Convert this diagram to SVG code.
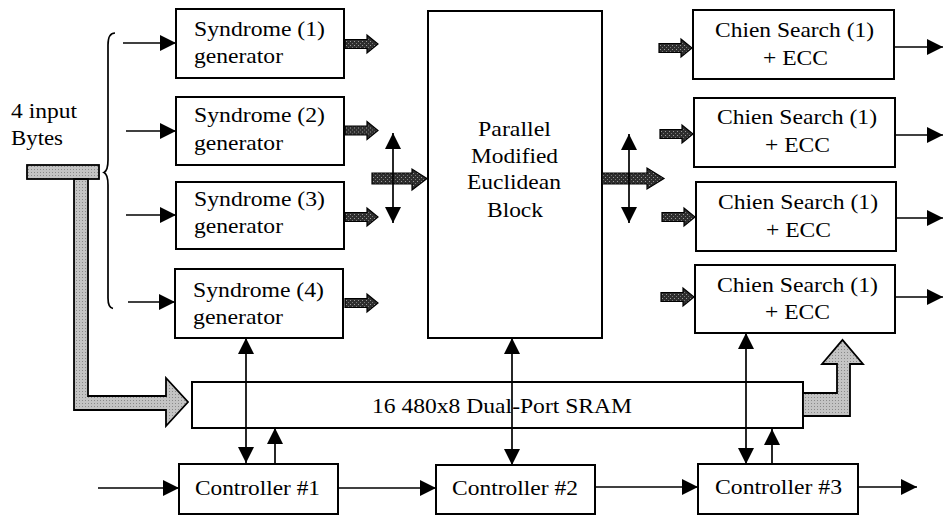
<svg xmlns="http://www.w3.org/2000/svg" width="944" height="515" viewBox="0 0 944 515">
<defs>
<style>
.box{fill:#fff;stroke:#000;stroke-width:2}
.t{font-family:"Liberation Serif","Times New Roman",serif;font-size:22px;fill:#000}
.ln{stroke:#000;stroke-width:1.7;fill:none}
.ar{marker-end:url(#ah)}
.dbl{marker-start:url(#ah);marker-end:url(#ah)}
.dk{fill:url(#pdk);stroke:#000;stroke-width:1.2}
.lt{fill:url(#plt);stroke:#000;stroke-width:1.8}
</style>
<marker id="ah" viewBox="0 0 16 16" markerWidth="16" markerHeight="16" markerUnits="userSpaceOnUse" refX="16" refY="8" orient="auto-start-reverse">
<path d="M0,0 L16,8 L0,16 z" fill="#000"/>
</marker>
<pattern id="pdk" width="4" height="4" patternUnits="userSpaceOnUse">
<rect width="4" height="4" fill="#2e2e2e"/>
<rect x="1" y="1" width="1" height="1" fill="#9a9a9a"/>
<rect x="3" y="3" width="1" height="1" fill="#777"/>
</pattern>
<pattern id="plt" width="3" height="3" patternUnits="userSpaceOnUse">
<rect width="3" height="3" fill="#c4c4c4"/>
<rect x="1" y="1" width="1" height="1" fill="#8a8a8a"/>
</pattern>
<path id="sa" d="M0,-4.5 L22,-4.5 L22,-9 L33,0 L22,9 L22,4.5 L0,4.5 z"/>
</defs>

<g id="input-bytes">
<text class="t" x="11" y="118" textLength="66" lengthAdjust="spacingAndGlyphs">4 input</text>
<text class="t" x="11" y="145" textLength="52" lengthAdjust="spacingAndGlyphs">Bytes</text>
<path class="ln" d="M115,33 C110,33 108,37 108,45 L108,160 C108,167 107,171 104,172.5 C107,174 108,178 108,185 L108,298 C108,305 110,308 113,308.5"/>
<rect class="lt" x="27" y="165" width="72" height="14"/>
<polygon class="lt" points="74,179 88,179 88,396 166,396 166,378 188,402 166,426 166,410 74,410"/>
</g>

<g id="syndrome1">
<rect class="box" x="176" y="9" width="168" height="69"/>
<text class="t" x="194" y="36" textLength="131" lengthAdjust="spacingAndGlyphs">Syndrome (1)</text>
<text class="t" x="194" y="63" textLength="89" lengthAdjust="spacingAndGlyphs">generator</text>
</g>
<g id="syndrome2">
<rect class="box" x="176" y="97" width="168" height="68"/>
<text class="t" x="194" y="122" textLength="131" lengthAdjust="spacingAndGlyphs">Syndrome (2)</text>
<text class="t" x="194" y="150" textLength="89" lengthAdjust="spacingAndGlyphs">generator</text>
</g>
<g id="syndrome3">
<rect class="box" x="176" y="182" width="168" height="67"/>
<text class="t" x="194" y="206" textLength="131" lengthAdjust="spacingAndGlyphs">Syndrome (3)</text>
<text class="t" x="194" y="233" textLength="89" lengthAdjust="spacingAndGlyphs">generator</text>
</g>
<g id="syndrome4">
<rect class="box" x="175" y="269" width="168" height="69"/>
<text class="t" x="193" y="297" textLength="131" lengthAdjust="spacingAndGlyphs">Syndrome (4)</text>
<text class="t" x="193" y="324" textLength="90" lengthAdjust="spacingAndGlyphs">generator</text>
</g>

<g id="euclidean">
<rect class="box" x="428" y="11" width="174" height="327"/>
<text class="t" x="478" y="136" textLength="73" lengthAdjust="spacingAndGlyphs">Parallel</text>
<text class="t" x="471" y="163" textLength="87" lengthAdjust="spacingAndGlyphs">Modified</text>
<text class="t" x="467" y="189" textLength="94" lengthAdjust="spacingAndGlyphs">Euclidean</text>
<text class="t" x="487" y="217" textLength="56" lengthAdjust="spacingAndGlyphs">Block</text>
</g>

<g id="chien1">
<rect class="box" x="693" y="10" width="201" height="69"/>
<text class="t" x="715" y="37" textLength="159" lengthAdjust="spacingAndGlyphs">Chien Search (1)</text>
<text class="t" x="763" y="65" textLength="65" lengthAdjust="spacingAndGlyphs">+ ECC</text>
</g>
<g id="chien2">
<rect class="box" x="694" y="98" width="201" height="69"/>
<text class="t" x="717" y="124" textLength="160" lengthAdjust="spacingAndGlyphs">Chien Search (1)</text>
<text class="t" x="765" y="152" textLength="65" lengthAdjust="spacingAndGlyphs">+ ECC</text>
</g>
<g id="chien3">
<rect class="box" x="696" y="182" width="200" height="69"/>
<text class="t" x="718" y="209" textLength="160" lengthAdjust="spacingAndGlyphs">Chien Search (1)</text>
<text class="t" x="766" y="237" textLength="65" lengthAdjust="spacingAndGlyphs">+ ECC</text>
</g>
<g id="chien4">
<rect class="box" x="695" y="265" width="200" height="68"/>
<text class="t" x="717" y="292" textLength="161" lengthAdjust="spacingAndGlyphs">Chien Search (1)</text>
<text class="t" x="765" y="319" textLength="65" lengthAdjust="spacingAndGlyphs">+ ECC</text>
</g>

<g id="sram">
<rect class="box" x="192" y="382" width="611" height="46"/>
<text class="t" x="372" y="413" textLength="260" lengthAdjust="spacingAndGlyphs">16 480x8 Dual-Port SRAM</text>
<polygon class="lt" points="803,393 837,393 837,364 822,364 842.5,340 863,364 850,364 850,416 803,416"/>
</g>

<g id="controller1">
<rect class="box" x="179" y="464" width="159" height="50"/>
<text class="t" x="195" y="495" textLength="125" lengthAdjust="spacingAndGlyphs">Controller #1</text>
</g>
<g id="controller2">
<rect class="box" x="436" y="465" width="159" height="49"/>
<text class="t" x="452" y="495" textLength="126" lengthAdjust="spacingAndGlyphs">Controller #2</text>
</g>
<g id="controller3">
<rect class="box" x="698" y="464" width="160" height="50"/>
<text class="t" x="715" y="494" textLength="127" lengthAdjust="spacingAndGlyphs">Controller #3</text>
</g>

<g id="connectors">
<line class="ln ar" x1="123" y1="43" x2="176" y2="43"/>
<line class="ln ar" x1="126" y1="131" x2="176" y2="131"/>
<line class="ln ar" x1="126" y1="215" x2="176" y2="215"/>
<line class="ln ar" x1="128" y1="302" x2="175" y2="302"/>
<use href="#sa" class="dk" x="345" y="44"/>
<use href="#sa" class="dk" x="345" y="130.5"/>
<use href="#sa" class="dk" x="345" y="217"/>
<use href="#sa" class="dk" x="345" y="303"/>
<polygon class="dk" points="372,173 412,173 412,169 427,178.5 412,190 412,184 372,184"/>
<line class="ln dbl" x1="393" y1="133" x2="393" y2="223"/>
<polygon class="dk" points="602,173 647,173 647,168 664,178.5 647,189 647,184 602,184"/>
<line class="ln dbl" x1="629" y1="134" x2="629" y2="223"/>
<use href="#sa" class="dk" x="659" y="48"/>
<use href="#sa" class="dk" x="660" y="134"/>
<use href="#sa" class="dk" x="662" y="217"/>
<use href="#sa" class="dk" x="661" y="297"/>
<line class="ln ar" x1="894" y1="47" x2="943" y2="47"/>
<line class="ln ar" x1="895" y1="135" x2="943" y2="135"/>
<line class="ln ar" x1="896" y1="218" x2="943" y2="218"/>
<line class="ln ar" x1="895" y1="297" x2="943" y2="297"/>
<line class="ln dbl" x1="246" y1="338" x2="246" y2="463"/>
<line class="ln ar" x1="275" y1="464" x2="275" y2="428"/>
<line class="ln ar" x1="98" y1="488" x2="179" y2="488"/>
<line class="ln ar" x1="338" y1="488" x2="436" y2="488"/>
<line class="ln dbl" x1="512" y1="338" x2="512" y2="465"/>
<line class="ln ar" x1="595" y1="487" x2="698" y2="487"/>
<line class="ln ar" x1="858" y1="487" x2="917" y2="487"/>
<line class="ln dbl" x1="746" y1="333" x2="746" y2="464"/>
<line class="ln ar" x1="772" y1="464" x2="772" y2="429"/>
</g>
</svg>
